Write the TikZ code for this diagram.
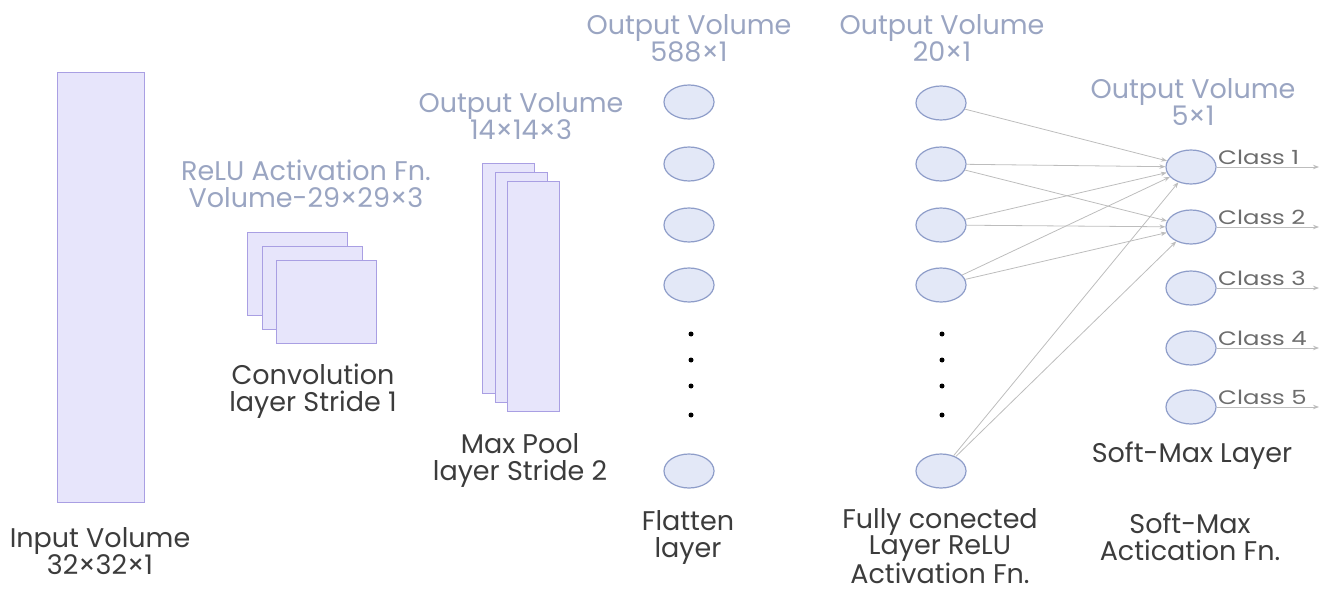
\documentclass[tikz,border=0pt]{standalone}
\usepackage{fontspec}
\setmainfont{Poppins}
\usetikzlibrary{shapes.geometric,arrows.meta}
\definecolor{lav}{HTML}{E7E5FB}
\definecolor{lavline}{HTML}{A99FE3}
\definecolor{cfill}{HTML}{E3E8F7}
\definecolor{cline}{HTML}{8E9DC9}
\definecolor{btext}{HTML}{9AA5C2}
\definecolor{dtext}{HTML}{3C3C3C}
\definecolor{wirec}{HTML}{BDBDBD}
\begin{document}
\begin{tikzpicture}[x=1pt,y=-1pt,
 box/.style={draw=lavline, fill=lav, line width=1.2pt, inner sep=0pt, anchor=north west},
 neuron/.style={ellipse, draw=cline, fill=cfill, line width=1.2pt, minimum width=50pt, minimum height=34pt, inner sep=0pt},
 dotnode/.style={circle, fill=black, minimum size=5pt, inner sep=0pt},
 lbl/.style={text=dtext, font=\fontsize{27}{27}\selectfont, align=center, inner sep=0pt},
 blbl/.style={text=btext, font=\fontsize{27}{27}\selectfont, align=center, inner sep=0pt},
 cls/.style={text=dtext!75, font=\fontsize{19.5}{20}\selectfont, anchor=west, inner sep=0pt},
 wire/.style={draw=wirec, line width=0.8pt, -{Stealth[length=6pt,width=4.5pt]}},
]
\useasboundingbox (0,0) rectangle (1323,591);
% input
\node[box, minimum width=87pt, minimum height=430pt] (in) at (57,72) {};
\node[lbl] (inl) at (100,551.5) {Input Volume\\32×32×1};
% convolution stack
\node[box, minimum width=100pt, minimum height=83pt] (c1) at (247,232) {};
\node[box, minimum width=100pt, minimum height=83pt] (c2) at (261.5,246) {};
\node[box, minimum width=100pt, minimum height=83pt] (c3) at (276,260) {};
\node[blbl] (relul) at (306,184) {ReLU Activation Fn.\\Volume-29×29×3};
\node[lbl] (convl) at (313,391.5) {Convolution\\layer Stride 1};
% pool stack
\node[box, minimum width=52pt, minimum height=230pt] (p1) at (482,163) {};
\node[box, minimum width=52pt, minimum height=230pt] (p2) at (494.5,172) {};
\node[box, minimum width=52pt, minimum height=230pt] (p3) at (507,181) {};
\node[blbl] (poolt) at (521,116.5) {Output Volume\\14×14×3};
\node[lbl] (poolb) at (520,460) {Max Pool\\layer Stride 2};
% flatten
\node[blbl] (flt) at (689,38) {Output Volume\\588×1};
\foreach \i/\y in {1/102,2/164,3/225,4/285,5/471} \node[neuron] (f\i) at (689,\y) {};
\foreach \i/\y in {1/334,2/360,3/386,4/415} \node[dotnode] (fd\i) at (691,\y) {};
\node[lbl] (flb) at (688,537) {Flatten\\layer};
% fully connected
\node[blbl] (fct) at (942,38) {Output Volume\\20×1};
\foreach \i/\y in {1/103,2/164,3/225,4/285,5/471} \node[neuron] (g\i) at (941,\y) {};
\foreach \i/\y in {1/334,2/360,3/386,4/415} \node[dotnode] (gd\i) at (942,\y) {};
\node[lbl, font=\fontsize{27}{26.5}\selectfont] (fcb) at (940,546) {Fully conected\\Layer ReLU\\Activation Fn.};
% softmax
\node[blbl] (smt) at (1193,102) {Output Volume\\5×1};
\foreach \i/\y in {1/167,2/227,3/288,4/348,5/407} {
  \node[neuron] (s\i) at (1191,\y) {};
  \node[cls] (cl\i) at (1218,\y-10) {\scalebox{1.25}[1]{Class \i}};
  \coordinate (o\i) at (1319,\y);
  \draw[wire] (s\i) -- (o\i);
}
\node[lbl] (sml) at (1192,456) {Soft-Max Layer};
\node[lbl] (smb) at (1190,537) {Soft-Max\\Actication Fn.};
% connections
\draw[wire] (g1) -- (s1);
\foreach \i in {2,3,4,5} {
  \draw[wire] (g\i) -- (s1);
  \draw[wire] (g\i) -- (s2);
}
\end{tikzpicture}
\end{document}
